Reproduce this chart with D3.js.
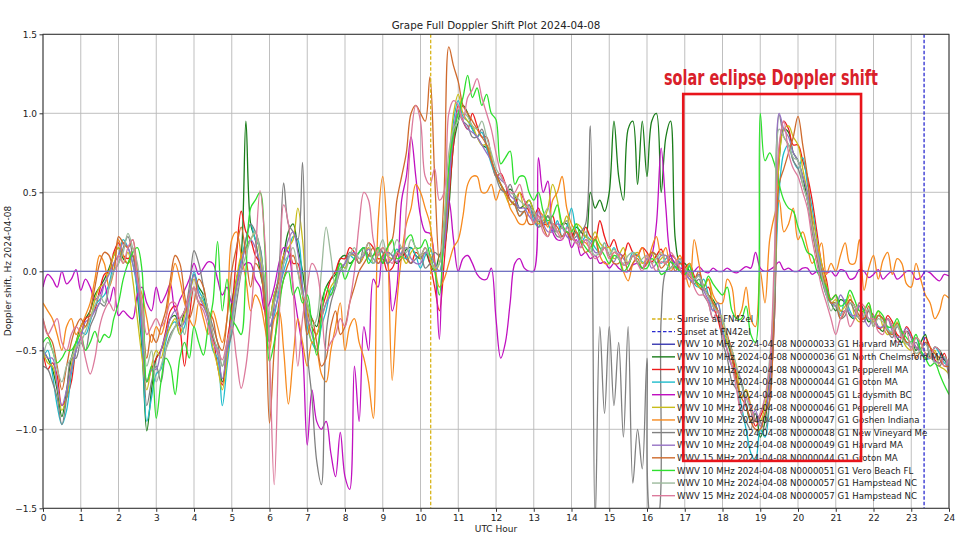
<!DOCTYPE html>
<html><head><meta charset="utf-8">
<script src="https://cdn.jsdelivr.net/npm/d3@7"></script>
<style>body{margin:0;background:#fff}svg{display:block}</style>
</head><body><svg id="c" width="960" height="540"></svg>
<script>
// ---------------- DATA ----------------
// quarter-hour samples
const hours = [0,0.25,0.5,0.75,1,1.25,1.5,1.75,2,2.25,2.5,2.75,3,3.25,3.5,3.75,
4,4.25,4.5,4.75,5,5.25,5.5,5.75,6,6.25,6.5,6.75,7,7.25,7.5,7.75,
8,8.25,8.5,8.75,9,9.25,9.5,9.75,10,10.25,10.5,10.75,11,11.25,11.5,11.75,
12,12.25,12.5,12.75,13,13.25,13.5,13.75,14,14.25,14.5,14.75,15,15.25,15.5,15.75,
16,16.25,16.5,16.75,17,17.25,17.5,17.75,18,18.25,18.5,18.75,19,19.25,19.5,19.75,
20,20.25,20.5,20.75,21,21.25,21.5,21.75,22,22.25,22.5,22.75,23,23.25,23.5,23.75,24];
// in-between samples
const hoursMid = [0.125,0.375,0.625,0.875,1.125,1.375,1.625,1.875,2.125,2.375,2.625,2.875,3.125,3.375,3.625,3.875,
4.125,4.375,4.625,4.875,5.125,5.375,5.625,5.875,6.125,6.375,6.625,6.875,7.125,7.375,7.625,7.875,
8.125,8.375,8.625,8.875,9.125,9.375,9.625,9.875,10.125,10.375,10.625,10.875,11.125,11.375,11.625,11.875,
12.125,12.375,12.625,12.875,13.125,13.375,13.625,13.875,14.125,14.375,14.625,14.875,15.125,15.375,15.625,15.875,
16.125,16.375,16.625,16.875,17.125,17.375,17.625,17.875,18.125,18.375,18.625,18.875,19.125,19.375,19.625,19.875,
20.125,20.375,20.625,20.875,21.125,21.375,21.625,21.875,22.125,22.375,22.625,22.875,23.125,23.375,23.625,23.875];
const hoursEnds = [0, 24];

const harvard33 = [0, 0];

const chelmsford36 = [
-0.5,-0.62,-0.92,-0.55, -0.35,-0.25,-0.1,0.02, 0.15,0.05,-0.15,-1.01, -0.55,-0.42,-0.28,-0.25,
-0.02,-0.15,-0.42,-0.7, -0.2,0.1,0.3,0.0, -0.3,-0.05,0.25,0.15, -0.2,-0.35,-0.1,-0.02,
0.1,0.08,0.15,0.1, 0.05,0.1,0.08,0.15, 0.08,0.05,0.1,0.4, 0.95,1.0,0.85,0.78,
0.62,0.5,0.48,0.42, 0.38,0.3,0.28,0.3, 0.2,0.25,0.5,0.45, 0.5,0.6,0.9,0.55,
0.6,1.0,0.85,0.2, 0.05,-0.05,-0.1,-0.18, -0.4,-0.55,-0.7,-0.95, -1.05,-0.65,0.7,0.88,
0.7,0.45,0.1,-0.12, -0.25,-0.2,-0.3,-0.25, -0.3,-0.38,-0.35,-0.45, -0.42,-0.45,-0.55,-0.5,
-0.6];
const chelmsford36Mid = [
-0.55,-0.75,-0.75,-0.45, -0.3,-0.15,-0.05,0.1, 0.08,0.1,-0.5,-0.75, -0.5,-0.3,-0.35,-0.15,
-0.1,-0.3,-0.5,-0.55, -0.05,0.95,0.2,-0.15, -0.15,0.1,0.3,0.0, -0.3,-0.2,-0.05,0.08,
0.05,0.12,0.1,0.15, 0.12,0.05,0.14,0.1, 0.12,0.0,0.15,0.8, 1.05,0.9,0.8,0.7,
0.55,0.52,0.4,0.45, 0.32,0.35,0.25,0.3, 0.28,0.22,0.4,0.38, 0.95,0.45,0.95,0.95,
0.95,0.5,0.95,0.05, 0.0,-0.02,-0.15,-0.25, -0.45,-0.65,-0.85,-0.9, -0.95,-0.2,0.9,0.75,
0.6,0.3,-0.05,-0.2, -0.18,-0.28,-0.2,-0.32, -0.35,-0.3,-0.42,-0.38, -0.5,-0.4,-0.48,-0.56];

const pepperell43 = [
-0.5,-0.58,-0.85,-0.7, -0.42,-0.28,-0.12,0.0, 0.18,0.08,-0.05,-0.7, -0.55,-0.38,-0.22,-0.6,
-0.1,-0.22,-0.4,-0.72, -0.25,0.38,0.2,0.05, -0.45,-0.05,0.15,0.05, -0.25,-0.4,-0.15,0.0,
0.08,0.12,0.1,0.15, 0.08,0.02,0.15,0.05, 0.1,0.05,-0.25,0.45, 1.05,0.9,0.92,0.85,
0.6,0.55,0.42,0.45, 0.35,0.3,0.35,0.28, 0.25,0.2,0.22,0.32, 0.15,0.12,0.18,0.1,
0.12,0.1,0.05,0.08, 0.02,-0.03,-0.12,-0.22, -0.4,-0.5,-0.8,-0.88, -0.92,-0.75,0.75,0.9,
0.8,0.6,0.25,-0.05, -0.15,-0.25,-0.22,-0.3, -0.28,-0.35,-0.32,-0.42, -0.4,-0.5,-0.48,-0.58,
-0.65];
const pepperell43Mid = [
-0.62,-0.66,-0.8,-0.5, -0.3,-0.24,-0.02,0.12, 0.1,0.1,-0.4,-0.62, -0.5,-0.25,-0.35,-0.3,
-0.2,-0.28,-0.6,-0.45, 0.1,0.25,0.1,-0.25, -0.2,0.1,0.05,-0.15, -0.35,-0.25,-0.05,0.08,
0.15,0.05,0.18,0.08, 0.0,0.1,0.08,0.12, 0.15,-0.1,0.05,0.8, 0.95,1.0,0.85,0.72,
0.62,0.45,0.5,0.38, 0.4,0.3,0.25,0.32, 0.18,0.28,0.2,0.22, 0.2,0.1,0.12,0.15,
0.06,0.14,0.1,0.0, 0.05,-0.1,-0.1,-0.3, -0.42,-0.68,-0.75,-0.98, -0.85,-0.3,0.95,0.8,
0.7,0.45,0.05,-0.18, -0.25,-0.18,-0.3,-0.25, -0.36,-0.28,-0.4,-0.35, -0.48,-0.42,-0.56,-0.52];

const groton44 = [
-0.55,-0.65,-0.97,-0.65, -0.38,-0.32,-0.18,-0.08, 0.1,0.15,-0.12,-0.95, -0.65,-0.45,-0.32,-0.35,
0.0,-0.18,-0.5,-0.85, -0.35,0.08,0.3,0.15, -0.35,-0.12,0.1,0.2, -0.35,-0.5,-0.25,-0.08,
0.02,0.08,0.15,0.05, 0.12,0.08,0.1,0.15, 0.02,0.15,0.0,0.6, 1.08,0.95,0.85,0.78,
0.6,0.5,0.42,0.38, 0.32,0.35,0.25,0.22, 0.4,0.18,0.2,0.12, 0.1,0.08,0.05,0.1,
0.05,0.1,0.08,0.02, -0.02,-0.08,-0.05,-0.25, -0.35,-0.6,-0.85,-1.15, -1.0,-0.8,0.5,0.8,
0.65,0.55,0.2,-0.15, -0.2,-0.18,-0.3,-0.25, -0.32,-0.3,-0.4,-0.38, -0.45,-0.5,-0.55,-0.52,
-0.6];
const groton44Mid = [
-0.5,-0.85,-0.88,-0.5, -0.4,-0.22,-0.15,0.05, 0.2,0.05,-0.45,-0.8, -0.62,-0.35,-0.4,-0.2,
-0.12,-0.3,-0.55,-0.6, -0.1,0.2,0.2,-0.15, -0.28,0.0,0.22,-0.1, -0.45,-0.35,-0.12,0.05,
0.1,0.12,0.08,0.12, 0.05,0.14,0.08,0.1, 0.1,0.05,0.2,0.95, 0.98,0.9,0.88,0.68,
0.55,0.45,0.35,0.42, 0.28,0.3,0.32,0.28, 0.25,0.22,0.15,0.18, 0.15,0.04,0.12,0.06,
0.12,0.05,0.1,0.06, 0.04,-0.1,-0.15,-0.2, -0.5,-0.7,-1.0,-1.2, -1.05,-0.2,0.75,0.7,
0.72,0.4,0.0,-0.2, -0.28,-0.25,-0.22,-0.3, -0.28,-0.36,-0.33,-0.45, -0.42,-0.55,-0.48,-0.58];

const ladysmith45 = [
-0.1,-0.05,0.0,-0.05, -0.12,-0.1,-0.15,-0.2, -0.28,-0.28,-0.15,-0.2, -0.1,-0.15,-0.25,-0.12,
0.05,0.02,0.05,-0.15, -0.2,0.0,0.05,-0.1, -0.2,0.05,0.12,-0.3, -1.1,-0.95,-0.95,-1.3,
-1.3,-0.6,-0.35,-0.05, 0.1,-0.25,0.45,0.85, 0.35,0.24,-0.43,0.45, 0.0,0.1,-0.02,-0.05,
-0.3,-0.45,0.05,0.02, 0.0,0.5,0.25,0.2, 0.15,0.1,0.08,0.05, 0.02,0.02,0.0,0.05,
0.05,0.3,0.4,0.05, 0.02,0.0,0.0,0.02, 0.0,0.0,0.01,0.02, 0.02,0.01,0.06,0.02,
0.0,0.02,0.0,-0.01, -0.03,0.0,-0.04,0.0, -0.02,-0.05,0.0,-0.03, 0.0,-0.04,-0.01,-0.06,
-0.03];
const ladysmith45Mid = [
-0.02,-0.1,-0.08,0.01, -0.05,-0.18,-0.08,-0.1, -0.25,-0.3,-0.1,-0.25, -0.2,-0.08,-0.18,-0.05,
-0.02,0.06,-0.05,-0.1, -0.1,0.05,-0.05,-0.25, -0.1,0.15,-0.1,-0.5, -0.75,-1.0,-1.15,-1.02,
-1.38,-0.95,-0.5,-0.1, 0.05,-0.1,0.6,0.6, 0.25,0.07,0.3,0.2, 0.08,0.05,-0.05,0.02,
-0.55,-0.2,0.08,0.0, 0.72,0.57,0.2,0.25, 0.2,0.12,0.1,0.06, 0.05,0.0,0.04,0.02,
0.1,0.78,0.1,0.02, -0.02,0.03,-0.01,0.0, 0.02,-0.01,0.03,0.12, 0.0,0.03,0.01,0.0,
0.02,-0.02,0.01,0.0, 0.01,-0.05,0.01,-0.04, 0.01,-0.02,-0.05,0.0, -0.05,0.0,-0.04,-0.02];

const pepperell46 = [
-0.5,-0.6,-0.88,-0.6, -0.38,-0.3,-0.1,0.0, 0.15,0.12,-0.3,-0.75, -0.5,-0.42,-0.3,-0.28,
-0.05,-0.2,-0.48,-0.75, -0.28,0.1,0.2,0.1, -0.3,-0.05,0.15,0.4, -0.25,-0.4,-0.2,-0.05,
0.02,0.1,0.1,0.05, 0.15,0.08,0.1,0.12, 0.08,0.1,0.05,0.65, 1.12,0.95,0.85,0.8,
0.6,0.48,0.45,0.4, 0.38,0.32,0.55,0.28, 0.25,0.28,0.2,0.18, 0.15,0.1,0.05,0.12,
0.08,0.05,0.1,0.05, 0.0,-0.05,-0.1,-0.2, -0.3,-0.5,-0.8,-0.85, -0.95,-0.6,0.7,0.92,
0.8,0.5,0.2,-0.08, -0.18,-0.22,-0.28,-0.25, -0.32,-0.35,-0.38,-0.42, -0.5,-0.45,-0.55,-0.6,
-0.65];
const pepperell46Mid = [
-0.58,-0.72,-0.8,-0.45, -0.35,-0.18,-0.08,0.1, 0.05,-0.05,-0.55,-0.6, -0.55,-0.35,-0.4,-0.15,
-0.15,-0.3,-0.6,-0.55, -0.05,0.15,0.25,-0.15, -0.15,0.1,0.2,0.2, -0.45,-0.3,-0.1,0.05,
0.1,0.05,0.15,0.1, 0.1,0.12,0.05,0.15, 0.12,0.0,0.2,1.0, 1.0,0.92,0.8,0.72,
0.55,0.42,0.5,0.45, 0.3,0.4,0.45,0.35, 0.3,0.22,0.25,0.15, 0.08,0.15,0.1,0.05,
0.12,0.08,0.02,0.08, 0.05,-0.1,-0.05,-0.25, -0.45,-0.62,-0.75,-0.95, -0.85,-0.2,0.9,0.85,
0.65,0.35,0.05,-0.2, -0.25,-0.15,-0.32,-0.2, -0.25,-0.4,-0.32,-0.48, -0.42,-0.52,-0.5,-0.62];

const goshen47 = [
-0.2,-0.3,-0.5,-0.3, -0.35,-0.2,0.1,-0.1, 0.2,0.05,-0.05,-0.3, -0.35,-0.3,0.05,-0.2,
-0.35,-0.3,-0.25,-0.45, 0.2,0.1,-0.25,-0.2, -0.5,-0.25,-0.84,-0.3, -0.6,-0.5,-0.7,-0.35,
-0.5,-0.3,-0.55,-0.93, 0.6,-0.69,0.1,0.4, 0.5,0.3,-0.1,0.05, 0.2,0.55,0.6,0.5,
0.45,0.5,0.35,0.3, 0.3,0.35,0.45,0.6, 0.3,0.2,0.15,0.1, 0.05,0.1,-0.06,0.1,
0.05,0.22,0.15,0.05, 0.0,0.2,-0.1,-0.15, -0.2,-0.1,-0.25,-0.3, 0.0,0.2,0.45,0.3,
0.2,0.15,0.1,-0.02, 0.0,0.18,0.05,-0.12, 0.1,0.07,-0.02,0.05, -0.1,-0.05,-0.2,-0.25,
-0.17];
const goshen47Mid = [
-0.25,-0.4,-0.35,-0.4, -0.28,-0.05,0.05,0.0, 0.1,0.15,-0.15,-0.45, -0.4,-0.1,-0.05,-0.3,
-0.2,-0.4,-0.35,-0.3, 0.25,-0.05,-0.15,-0.35, -0.3,-0.5,-0.55,-0.45, -0.45,-0.65,-0.5,-0.2,
-0.35,-0.45,-0.7,0.3, 0.2,-0.2,0.3,0.55, 0.4,0.05,-0.05,0.15, 0.35,0.6,0.5,0.55,
0.52,0.4,0.3,0.38, 0.38,0.28,0.5,0.4, 0.25,0.18,0.22,0.05, 0.12,0.0,0.05,0.15,
0.15,0.1,0.0,0.1, -0.1,0.05,-0.05,-0.2, -0.05,-0.3,-0.1,-0.35, -0.2,0.35,0.25,0.4,
0.25,0.05,0.18,0.05, 0.1,0.05,0.2,0.02, -0.05,0.12,0.08,-0.08, 0.05,-0.15,-0.3,-0.15];

const newVineyard48 = [
-0.6,-0.7,-0.97,-0.55, -0.45,-0.35,-0.2,-0.1, 0.05,0.22,-0.05,-0.85, -0.6,-0.5,-0.35,-0.25,
0.13,-0.1,-0.35,-0.6, -0.4,0.0,0.3,0.15, -0.45,0.0,0.3,0.2, -0.5,-1.2,-0.4,-0.1,
0.05,0.1,0.15,0.1, 0.12,0.08,0.15,0.05, 0.1,0.05,0.1,0.55, 1.0,0.92,0.85,0.8,
0.6,0.5,0.45,0.38, 0.35,0.3,0.28,0.22, 0.2,0.25,0.92,-0.35, -0.35,-0.45,-0.35,-1.0,
-0.55,-1.6,0.0,0.05, 0.0,-0.08,-0.15,-0.3, -0.45,-0.7,-0.9,-1.0, -0.95,-0.8,0.99,0.8,
0.65,0.45,0.1,-0.15, -0.22,-0.28,-0.25,-0.32, -0.35,-0.3,-0.42,-0.4, -0.48,-0.52,-0.5,-0.6,
-0.68];
const newVineyard48Mid = [
-0.62,-0.8,-0.8,-0.55, -0.5,-0.28,-0.22,0.0, 0.15,0.1,-0.3,-0.7, -0.7,-0.4,-0.3,-0.1,
0.05,-0.25,-0.45,-0.5, -0.2,0.2,0.25,-0.1, -0.2,0.56,0.25,0.69, -0.8,-1.35,-0.2,0.0,
0.12,0.05,0.1,0.15, 0.05,0.12,0.1,0.08, 0.02,0.12,0.2,0.85, 0.95,0.85,0.9,0.7,
0.52,0.55,0.38,0.42, 0.28,0.35,0.22,0.25, 0.22,0.3,-1.6,-0.9, -0.85,-1.05,-1.34,-1.25,
-1.6,-0.3,0.02,0.0, -0.05,-0.05,-0.2,-0.25, -0.55,-0.75,-0.95,-0.9, -1.0,-0.3,0.85,0.7,
0.55,0.25,-0.05,-0.2, -0.3,-0.2,-0.3,-0.25, -0.28,-0.38,-0.35,-0.45, -0.45,-0.55,-0.58,-0.55];

const harvard49 = [
-0.48,-0.55,-0.85,-0.62, -0.42,-0.3,-0.2,-0.02, 0.1,0.15,-0.08,-0.7, -0.62,-0.4,-0.25,-0.32,
-0.02,-0.22,-0.45,-0.68, -0.3,0.05,0.2,0.05, -0.35,-0.15,0.2,0.12, -0.3,-0.5,-0.2,-0.08,
0.05,0.12,0.1,0.08, 0.08,0.1,0.12,0.08, 0.05,0.1,0.0,0.5, 1.02,0.9,0.85,0.75,
0.62,0.55,0.45,0.4, 0.32,0.3,0.25,0.28, 0.2,0.15,0.18,0.12, 0.1,0.12,0.05,0.05,
0.08,0.05,0.1,0.03, 0.0,-0.06,-0.12,-0.25, -0.38,-0.6,-0.7,-0.92, -0.98,-0.7,1.0,0.85,
0.7,0.5,0.15,-0.12, -0.22,-0.2,-0.28,-0.3, -0.28,-0.35,-0.38,-0.4, -0.42,-0.5,-0.52,-0.58,
-0.62];
const harvard49Mid = [
-0.55,-0.72,-0.75,-0.5, -0.32,-0.25,-0.08,0.05, 0.18,0.05,-0.35,-0.62, -0.5,-0.3,-0.35,-0.15,
-0.15,-0.3,-0.52,-0.5, -0.1,0.15,0.15,-0.2, -0.25,0.05,0.25,-0.1, -0.4,-0.3,-0.15,0.02,
0.1,0.08,0.14,0.05, 0.12,0.06,0.15,0.05, 0.12,0.05,0.15,0.9, 0.95,0.88,0.8,0.7,
0.58,0.48,0.4,0.35, 0.38,0.25,0.3,0.22, 0.25,0.2,0.12,0.15, 0.06,0.08,0.1,0.02,
0.02,0.1,0.06,0.08, -0.05,-0.02,-0.18,-0.2, -0.5,-0.62,-0.85,-0.88, -0.9,-0.1,0.9,0.75,
0.6,0.3,0.0,-0.2, -0.15,-0.27,-0.22,-0.35, -0.35,-0.3,-0.42,-0.36, -0.48,-0.45,-0.57,-0.55];

const groton44_15 = [
-0.3,-0.45,-0.75,-0.45, -0.3,-0.25,0.05,0.1, 0.22,0.15,0.0,-0.55, -0.45,-0.25,0.1,-0.15,
-0.2,-0.1,-0.3,-0.5, 0.0,0.28,-0.1,0.0, -0.96,-0.2,0.05,0.0, -0.4,-0.45,-0.55,-0.25,
-0.35,-0.1,0.05,0.15, 0.1,0.2,0.6,1.0, 1.0,1.23,0.05,1.42, 1.2,1.0,0.9,0.8,
0.62,0.5,0.42,0.38, 0.3,0.28,0.3,0.22, 0.2,0.18,0.15,0.1, 0.1,0.05,0.0,0.08,
0.05,0.1,0.05,0.0, 0.02,-0.05,-0.1,-0.2, -0.35,-0.55,-0.8,-0.95, -1.0,-0.82,0.55,0.75,
0.98,0.6,0.1,-0.1, -0.2,-0.25,-0.22,-0.3, -0.35,-0.3,-0.4,-0.38, -0.45,-0.5,-0.48,-0.55,
-0.6];
const groton44_15Mid = [
-0.4,-0.6,-0.6,-0.35, -0.35,-0.1,0.12,0.0, 0.18,0.2,-0.25,-0.4, -0.35,-0.05,0.05,-0.3,
-0.05,-0.25,-0.45,-0.3, 0.15,0.1,0.05,-0.2, -0.5,-0.05,0.1,-0.15, -0.3,-0.6,-0.35,-0.4,
-0.2,0.0,0.1,0.05, 0.15,0.45,0.75,1.05, 0.95,0.6,0.5,1.3, 1.05,0.95,0.85,0.7,
0.55,0.45,0.35,0.3, 0.35,0.22,0.28,0.25, 0.25,0.12,0.2,0.15, 0.05,0.1,0.05,0.02,
0.12,0.02,0.08,0.05, -0.03,0.0,-0.15,-0.25, -0.4,-0.7,-0.85,-1.0, -0.9,-0.1,0.65,0.85,
0.8,0.3,0.0,-0.2, -0.3,-0.18,-0.28,-0.22, -0.28,-0.38,-0.33,-0.45, -0.55,-0.45,-0.52,-0.6];

const veroBeach51 = [
-0.45,-0.5,-0.55,-0.5, -0.4,-0.45,-0.45,-0.42, -0.2,0.05,0.15,-0.7, -0.93,-0.55,-0.78,-0.45,
-0.35,-0.53,-0.2,-0.25, -0.3,-0.4,0.4,0.5, -0.57,-0.25,0.0,-0.1, -0.15,-0.53,-0.1,-0.05,
-0.05,0.08,0.15,0.1, 0.05,0.2,0.1,0.23, 0.15,0.1,-0.15,0.66, 1.0,1.24,1.16,1.12,
0.96,0.72,0.55,0.6, 0.45,0.38,0.35,0.3, 0.25,0.2,0.12,0.15, 0.05,0.08,0.03,0.06,
0.02,0.05,0.0,0.03, -0.02,-0.05,-0.1,-0.08, -0.15,-0.25,-0.3,-0.4, 1.0,0.75,0.55,0.4,
0.28,0.12,0.0,-0.1, -0.15,-0.2,-0.18,-0.25, -0.3,-0.28,-0.35,-0.38, -0.45,-0.5,-0.6,-0.65,
-0.78];
const veroBeach51Mid = [
-0.42,-0.58,-0.5,-0.45, -0.5,-0.38,-0.4,-0.3, -0.05,0.12,0.0,-0.6, -0.7,-0.6,-0.55,-0.55,
-0.45,-0.35,0.19,-0.05, -0.35,0.0,0.45,0.15, -0.45,-0.05,-0.15,-0.2, -0.35,-0.3,-0.15,0.05,
0.02,0.12,0.05,0.15, 0.15,0.08,0.2,0.15, 0.2,0.0,0.3,0.87, 1.1,1.1,1.05,1.0,
0.68,0.76,0.6,0.5, 0.5,0.32,0.42,0.25, 0.3,0.15,0.2,0.1, 0.1,0.0,0.1,0.02,
0.08,-0.02,0.06,0.0, 0.03,-0.08,-0.03,-0.12, -0.1,-0.3,-0.22,-0.45, 0.7,0.68,0.45,0.38,
0.2,0.1,-0.05,-0.18, -0.22,-0.12,-0.25,-0.2, -0.25,-0.35,-0.3,-0.42, -0.4,-0.55,-0.58,-0.72];

const hampstead57_10 = [
-0.55,-0.5,-0.7,-0.55, -0.45,-0.3,-0.15,-0.1, 0.05,0.24,0.05,-0.6, -0.7,-0.5,-0.35,-0.4,
-0.1,-0.15,-0.4,-0.6, -0.35,0.0,0.2,0.12, -0.3,-0.1,0.1,0.0, -0.2,-0.3,0.28,-0.1,
0.0,0.15,0.12,0.05, 0.2,0.12,0.15,0.2, 0.1,0.08,0.05,0.75, 0.95,0.98,0.9,0.85,
0.65,0.55,0.48,0.42, 0.38,0.35,0.3,0.28, 0.22,0.2,0.15,0.12, 0.1,0.08,0.1,0.05,
0.1,0.08,0.05,0.05, 0.02,-0.05,-0.1,-0.22, -0.3,-0.5,-0.72,-0.88, -0.9,-0.55,0.9,0.8,
0.7,0.45,0.12,-0.15, -0.2,-0.25,-0.22,-0.28, -0.35,-0.32,-0.38,-0.42, -0.45,-0.5,-0.52,-0.56,
-0.6];
const hampstead57_10Mid = [
-0.45,-0.62,-0.6,-0.48, -0.38,-0.22,-0.2,0.0, 0.12,0.15,-0.25,-0.5, -0.6,-0.42,-0.3,-0.2,
-0.2,-0.25,-0.5,-0.45, -0.15,0.1,0.25,-0.05, -0.2,0.05,0.15,-0.15, -0.35,0.0,0.1,0.02,
0.1,0.08,0.18,0.12, 0.1,0.2,0.12,0.15, 0.15,0.02,0.3,0.9, 1.0,0.92,0.95,0.75,
0.6,0.5,0.45,0.4, 0.32,0.4,0.25,0.32, 0.18,0.25,0.1,0.18, 0.14,0.05,0.12,0.08,
0.05,0.12,0.02,0.08, -0.02,-0.03,-0.16,-0.26, -0.42,-0.6,-0.8,-0.95, -0.8,-0.1,0.85,0.72,
0.55,0.28,-0.02,-0.25, -0.27,-0.2,-0.3,-0.24, -0.3,-0.37,-0.34,-0.46, -0.52,-0.46,-0.58,-0.54];

const hampstead57_15 = [
-0.3,-0.35,-0.45,-0.4, -0.4,-0.65,-0.35,-0.2, 0.1,0.15,-0.05,-0.4, -0.3,-0.3,-0.2,-0.25,
-0.1,-0.25,-0.45,-0.56, -0.35,-0.74,-0.3,0.51, -0.5,-0.4,0.3,-0.6, -0.1,0.0,-0.5,-0.4,
-0.35,0.0,0.5,0.2, 0.15,0.05,0.1,0.85, 0.95,0.55,0.45,1.0, 1.05,1.1,1.22,1.0,
0.75,0.55,0.5,0.45, 0.3,0.25,0.3,0.2, 0.22,0.15,0.12,0.1, 0.08,0.1,0.05,0.05,
0.1,0.0,0.05,0.08, -0.05,-0.1,-0.15,-0.3, -0.4,-0.6,-0.9,-0.85, -0.9,-0.6,0.8,0.75,
0.6,0.4,0.05,-0.2, -0.4,-0.25,-0.3,-0.22, -0.3,-0.4,-0.35,-0.42, -0.5,-0.45,-0.55,-0.5,
-0.55];
const hampstead57_15Mid = [
-0.4,-0.3,-0.5,-0.35, -0.55,-0.55,-0.25,-0.25, 0.05,0.2,-0.2,-0.35, -0.35,-0.2,-0.3,-0.15,
-0.2,-0.35,-0.5,-0.45, -0.55,-0.6,0.1,0.2, -1.35,0.42,-0.1,-0.3, 0.05,-0.2,-0.45,-0.3,
-0.2,0.3,0.45,0.1, 0.1,0.12,0.4,1.05, 0.6,0.65,0.5,1.08, 0.95,1.15,1.1,0.9,
0.62,0.5,0.55,0.4, 0.35,0.22,0.25,0.28, 0.18,0.2,0.08,0.15, 0.12,0.04,0.1,0.0,
0.05,0.06,0.12,0.02, 0.0,-0.15,-0.2,-0.25, -0.5,-0.75,-0.8,-0.95, -0.8,0.1,0.95,0.65,
0.5,0.2,-0.1,-0.3, -0.3,-0.35,-0.2,-0.3, -0.38,-0.3,-0.45,-0.38, -0.42,-0.52,-0.48,-0.6];

const seriesLabels = [
"WWV 10 MHz 2024-04-08 N0000033 G1 Harvard MA",
"WWV 10 MHz 2024-04-08 N0000036 G1 North Chelmsford MA",
"WWV 10 MHz 2024-04-08 N0000043 G1 Pepperell MA",
"WWV 10 MHz 2024-04-08 N0000044 G1 Groton MA",
"WWV 10 MHz 2024-04-08 N0000045 G1 Ladysmith BC",
"WWV 10 MHz 2024-04-08 N0000046 G1 Pepperell MA",
"WWV 10 MHz 2024-04-08 N0000047 G1 Goshen Indiana",
"WWV 10 MHz 2024-04-08 N0000048 G1 New Vineyard Me",
"WWV 10 MHz 2024-04-08 N0000049 G1 Harvard MA",
"WWV 15 MHz 2024-04-08 N0000044 G1 Groton MA",
"WWV 10 MHz 2024-04-08 N0000051 G1 Vero Beach FL",
"WWV 10 MHz 2024-04-08 N0000057 G1 Hampstead NC",
"WWV 15 MHz 2024-04-08 N0000057 G1 Hampstead NC"];
const seriesMain = [harvard33, chelmsford36, pepperell43, groton44, ladysmith45, pepperell46,
  goshen47, newVineyard48, harvard49, groton44_15, veroBeach51, hampstead57_10, hampstead57_15];
const seriesMid = [null, chelmsford36Mid, pepperell43Mid, groton44Mid, ladysmith45Mid, pepperell46Mid,
  goshen47Mid, newVineyard48Mid, harvard49Mid, groton44_15Mid, veroBeach51Mid, hampstead57_10Mid, hampstead57_15Mid];
const seriesColors = ["#7272c4","#1a7d1a","#ee1c1c","#1fbccc","#c010c0","#c8bd1a",
  "#f78a1e","#808080","#9672c4","#cf6a2c","#2ee02e","#9cba9c","#dc7a9c"];

const xTicks = [0,1,2,3,4,5,6,7,8,9,10,11,12,13,14,15,16,17,18,19,20,21,22,23,24];
const yTicks = [-1.5,-1.0,-0.5,0.0,0.5,1.0,1.5];
const sunriseHour = 10.27, sunsetHour = 23.34;
const eclipseBox = {h0: 16.96, h1: 21.67, v0: -1.20, v1: 1.122};

// ---------------- DRAW ----------------
const svg = d3.select("#c");
const L = 43, R = 949, T = 34.3, B = 508.3;
const x = d3.scaleLinear().domain([0, 24]).range([L, R]);
const y = d3.scaleLinear().domain([-1.5, 1.5]).range([B, T]);
const FONT = "DejaVu Sans, sans-serif";

svg.append("defs").append("clipPath").attr("id","clip")
  .append("rect").attr("x",L).attr("y",T).attr("width",R-L).attr("height",B-T);

// grid
const grid = svg.append("g").attr("stroke","#b8b8b8").attr("stroke-width",0.9);
xTicks.forEach(t => grid.append("line").attr("x1",x(t)).attr("x2",x(t)).attr("y1",T).attr("y2",B));
yTicks.forEach(t => grid.append("line").attr("y1",y(t)).attr("y2",y(t)).attr("x1",L).attr("x2",R));

// axes
const xa = svg.append("g").attr("transform",`translate(0,${B})`)
  .call(d3.axisBottom(x).tickValues(xTicks).tickSize(3.5).tickPadding(2.5).tickFormat(d3.format("d")));
const ya = svg.append("g").attr("transform",`translate(${L},0)`)
  .call(d3.axisLeft(y).tickValues(yTicks).tickSize(3.5).tickPadding(2.5).tickFormat(d3.format(".1f")));
[xa, ya].forEach(a => {
  a.select(".domain").remove();
  a.selectAll("line").attr("stroke","#333");
  a.selectAll("text").attr("font-family",FONT).attr("font-size",9).attr("fill","#222");
});

// data lines
function samples(i) {
  const main = seriesMain[i], mid = seriesMid[i];
  if (!mid) return hoursEnds.map((t, k) => [t, main[k]]);
  const out = [];
  main.forEach((v, k) => {
    out.push([hours[k], v]);
    if (k < mid.length) out.push([hoursMid[k], mid[k]]);
  });
  return out;
}
const plot = svg.append("g").attr("clip-path","url(#clip)");
const line = d3.line().defined(d => d[1] != null).x(d => x(d[0])).y(d => y(d[1]))
  .curve(d3.curveCatmullRom.alpha(0.5));
const order = [1,2,3,4,5,6,7,8,9,10,11,12,0];
order.forEach(i => {
  plot.append("path").datum(samples(i))
    .attr("d", line).attr("fill","none").attr("stroke", seriesColors[i])
    .attr("stroke-width",1.3).attr("stroke-linejoin","round");
});

// sunrise / sunset
plot.append("line").attr("x1",x(sunriseHour)).attr("x2",x(sunriseHour)).attr("y1",T).attr("y2",B)
  .attr("stroke","#d8b418").attr("stroke-width",1.3).attr("stroke-dasharray","3.5,2");
plot.append("line").attr("x1",x(sunsetHour)).attr("x2",x(sunsetHour)).attr("y1",T).attr("y2",B)
  .attr("stroke","#2a2ad0").attr("stroke-width",1.3).attr("stroke-dasharray","3.5,2");

// frame
svg.append("rect").attr("x",L).attr("y",T).attr("width",R-L).attr("height",B-T)
  .attr("fill","none").attr("stroke","#333").attr("stroke-width",1);

// legend
const legendItems = [{label:"Sunrise at FN42el", color:"#d8b418", dash:"3.5,2"},
  {label:"Sunset at FN42el", color:"#2a2ad0", dash:"3.5,2"}]
  .concat(seriesLabels.map((s, i) => ({label: s, color: i === 0 ? "#3838b0" : seriesColors[i], dash: null})));
const lg = svg.append("g");
legendItems.forEach((it, i) => {
  const cy = 319 + i * 12.62;
  lg.append("line").attr("x1",652).attr("x2",675).attr("y1",cy).attr("y2",cy)
    .attr("stroke",it.color).attr("stroke-width",1.4).attr("stroke-dasharray",it.dash);
  lg.append("text").attr("x",677).attr("y",cy+3.2).text(it.label)
    .attr("font-family",FONT).attr("font-size",8.6).attr("fill","#222");
});

// eclipse box + annotation
svg.append("rect").attr("x",x(eclipseBox.h0)).attr("y",y(eclipseBox.v1))
  .attr("width",x(eclipseBox.h1)-x(eclipseBox.h0)).attr("height",y(eclipseBox.v0)-y(eclipseBox.v1))
  .attr("fill","none").attr("stroke","#e8141b").attr("stroke-width",2.6);
svg.append("text").attr("x",664).attr("y",85).text("solar eclipse Doppler shift")
  .attr("font-family","Liberation Sans Narrow, DejaVu Sans Condensed, sans-serif")
  .attr("font-weight","bold").attr("font-size",22).attr("fill","#d9202a")
  .attr("textLength",214).attr("lengthAdjust","spacingAndGlyphs");

// titles
svg.append("text").attr("x",(L+R)/2).attr("y",29).attr("text-anchor","middle")
  .text("Grape Full Doppler Shift Plot 2024-04-08").attr("font-family",FONT).attr("font-size",10.3).attr("fill","#222");
svg.append("text").attr("x",(L+R)/2).attr("y",532).attr("text-anchor","middle")
  .text("UTC Hour").attr("font-family",FONT).attr("font-size",9).attr("fill","#222");
svg.append("text").attr("transform","translate(11,271) rotate(-90)").attr("text-anchor","middle")
  .text("Doppler shift, Hz 2024-04-08").attr("font-family",FONT).attr("font-size",9).attr("fill","#222");
</script></body></html>
